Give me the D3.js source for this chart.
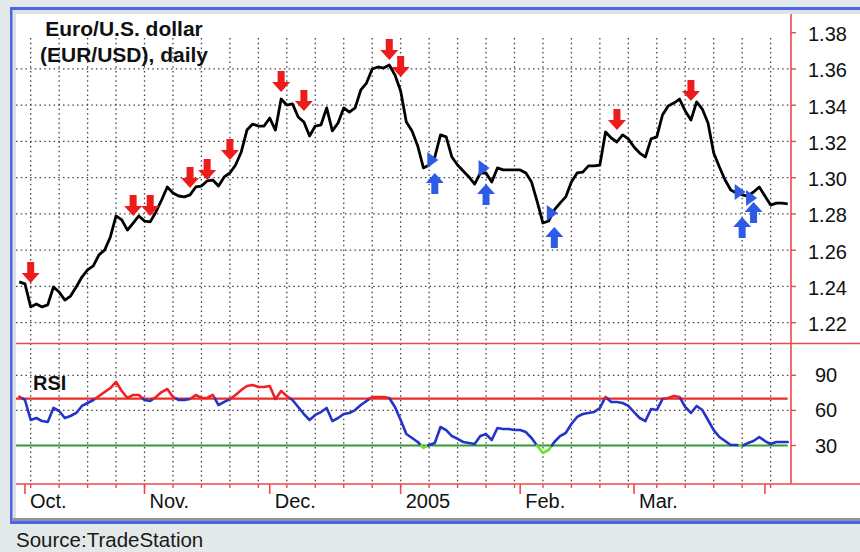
<!DOCTYPE html>
<html>
<head>
<meta charset="utf-8">
<script src="https://cdn.jsdelivr.net/npm/d3@7"></script>
<style>
  html, body { margin: 0; padding: 0; background: #e3e8e8; }
  svg { display: block; font-family: "Liberation Sans", Arial, sans-serif; }
</style>
</head>
<body>
<svg id="chart" width="860" height="552"></svg>
<script>
// ---- Data: EUR/USD daily closes, 30 Sep 2004 .. 7 Apr 2005 (one value per trading day) ----
const monthTickDays = [1, 22, 44, 67, 88, 108, 131];
const monthLabels = ["Oct.", "Nov.", "Dec.", "2005", "Feb.", "Mar."];

const priceTicks = [1.22, 1.24, 1.26, 1.28, 1.30, 1.32, 1.34, 1.36, 1.38];
const priceGrid = [1.22, 1.24, 1.26, 1.28, 1.30, 1.32, 1.34, 1.36];
const rsiTicks = [30, 60, 90];
const rsiGrid = [60, 90];
const rsiOverbought = 70;
const rsiOversold = 30;

const eurusd = [
  1.2425, 1.2414, 1.2287, 1.2303, 1.2287, 1.2298, 1.2397, 1.2369, 1.2325, 1.2347,
  1.2397, 1.2452, 1.2491, 1.2513, 1.2574, 1.2601, 1.2673, 1.2789, 1.2767, 1.2711,
  1.2750, 1.2789, 1.2761, 1.2756, 1.2811, 1.2877, 1.2949, 1.2916, 1.2899, 1.2894,
  1.2905, 1.2949, 1.2954, 1.2982, 1.2987, 1.2954, 1.3004, 1.3026, 1.3070, 1.3142,
  1.3263, 1.3296, 1.3285, 1.3285, 1.3329, 1.3263, 1.3434, 1.3401, 1.3407, 1.3335,
  1.3307, 1.3230, 1.3285, 1.3291, 1.3385, 1.3258, 1.3302, 1.3385, 1.3362, 1.3385,
  1.3484, 1.3522, 1.3600, 1.3611, 1.3605, 1.3622, 1.3567, 1.3478, 1.3307, 1.3258,
  1.3175, 1.3054, 1.3070, 1.3114, 1.3236, 1.3225, 1.3114, 1.3070, 1.3037, 1.3004,
  1.2965, 1.3026, 1.3026, 1.2976, 1.3054, 1.3043, 1.3043, 1.3043, 1.3043, 1.3026,
  1.2976, 1.2866, 1.2750, 1.2761, 1.2822, 1.2860, 1.2894, 1.2976, 1.3026, 1.3031,
  1.3065, 1.3065, 1.3070, 1.3252, 1.3219, 1.3197, 1.3236, 1.3214, 1.3169, 1.3136,
  1.3114, 1.3214, 1.3225, 1.3346, 1.3396, 1.3412, 1.3434, 1.3368, 1.3318, 1.3418,
  1.3379, 1.3302, 1.3136, 1.3059, 1.2987, 1.2932, 1.2916, 1.2905, 1.2899, 1.2921,
  1.2949, 1.2899, 1.2849, 1.2860, 1.2860, 1.2855
];

const rsi = [
  71.7, 68.9, 51.8, 53.5, 50.9, 50.1, 62.1, 59.5, 53.5, 55.2,
  57.8, 63.8, 66.3, 68.9, 72.3, 75.7, 79.1, 84.3, 76.6, 70.6,
  73.2, 73.2, 68.9, 68.0, 71.5, 75.7, 78.3, 71.5, 68.9, 68.9,
  69.7, 73.2, 70.6, 70.6, 73.2, 64.6, 67.2, 69.7, 73.2, 77.4,
  80.9, 81.7, 80.0, 80.0, 80.9, 69.7, 76.6, 72.3, 68.9, 62.9,
  56.9, 51.8, 56.1, 58.6, 62.1, 50.9, 53.5, 56.9, 57.8, 60.3,
  64.6, 68.0, 71.5, 71.5, 71.5, 70.6, 62.9, 51.8, 39.8, 36.4,
  33.0, 27.9, 30.4, 32.1, 45.8, 43.2, 38.1, 35.6, 33.0, 32.1,
  31.3, 38.1, 39.8, 34.7, 45.0, 44.1, 44.1, 43.2, 43.2, 41.5,
  36.4, 29.6, 23.6, 26.2, 33.0, 38.1, 40.7, 48.4, 54.4, 56.9,
  57.8, 58.6, 62.1, 71.5, 67.2, 67.2, 66.3, 63.8, 58.6, 53.5,
  50.9, 61.2, 60.3, 69.7, 70.6, 72.3, 71.5, 62.9, 57.8, 63.8,
  60.3, 51.8, 43.2, 37.3, 33.8, 30.4, 30.4, 29.6, 32.1, 33.8,
  37.3, 33.8, 31.3, 33.0, 33.0, 33.0
];

// Sell signals: trading day and the price level of the arrow tip
const sellDays = [2, 20, 23, 30, 33, 37, 46, 50, 65, 67, 105, 118];
const sellTips = [1.2419, 1.2789, 1.2789, 1.2943, 1.2987, 1.3098, 1.3473, 1.3368, 1.3649, 1.3556, 1.3263, 1.3423];

// Buy signals: trading day, arrow tip level and the bar marker level
const buyDays = [73, 82, 94, 127, 129];
const buyTips = [1.3026, 1.2965, 1.2728, 1.2783, 1.2866];
const buyMarks = [1.3098, 1.3054, 1.2805, 1.2921, 1.2888];

// ---- Layout ----
const W = 860, H = 552;
const plotLeft = 16, axisX = 791, panelRight = 860;
const priceTop = 38, priceBottom = 343.5, rsiBottom = 484;

const svg = d3.select("#chart");

const x = d3.scaleLinear().domain([0, eurusd.length - 1]).range([19.3, 787.7]);
const y = d3.scaleLinear().domain([1.22, 1.38]).range([322.7, 32.7]);
const yr = d3.scaleLinear().domain([30, 90]).range([445.5, 375.3]);

// ---- Frame ----
svg.append("rect").attr("width", W).attr("height", H).attr("fill", "#e3e8e8");
svg.append("rect").attr("x", 10).attr("y", 7).attr("width", W - 10).attr("height", 517).attr("fill", "#4a66e6");
svg.append("rect").attr("x", 12.5).attr("y", 10).attr("width", W - 12.5).attr("height", 511).attr("fill", "#dde2e2");
svg.append("rect").attr("x", 12.5).attr("y", 518).attr("width", W - 12.5).attr("height", 3).attr("fill", "#8f9494");
svg.append("rect").attr("x", plotLeft).attr("y", 14).attr("width", W - plotLeft).attr("height", 504).attr("fill", "#ffffff");

// ---- Dotted grid ----
const grid = svg.append("g")
  .attr("stroke", "#444").attr("stroke-width", 1.3).attr("stroke-dasharray", "1.5 3.2").attr("fill", "none");

const weekStarts = d3.range(2, eurusd.length - 2, 5);   // Mondays
grid.selectAll(".vg").data(weekStarts).join("line")
  .attr("x1", d => x(d)).attr("x2", d => x(d))
  .attr("y1", priceTop).attr("y2", rsiBottom);

grid.selectAll(".hg").data(priceGrid).join("line")
  .attr("x1", plotLeft).attr("x2", axisX)
  .attr("y1", d => y(d)).attr("y2", d => y(d));

grid.selectAll(".rg").data(rsiGrid).join("line")
  .attr("x1", plotLeft).attr("x2", axisX)
  .attr("y1", d => yr(d)).attr("y2", d => yr(d));

// ---- RSI reference levels ----
svg.append("line").attr("x1", plotLeft).attr("x2", x(eurusd.length - 1))
  .attr("y1", yr(rsiOverbought)).attr("y2", yr(rsiOverbought))
  .attr("stroke", "#ec2b2b").attr("stroke-width", 2.2);
svg.append("line").attr("x1", plotLeft).attr("x2", x(eurusd.length - 1))
  .attr("y1", yr(rsiOversold)).attr("y2", yr(rsiOversold))
  .attr("stroke", "#2f9a37").attr("stroke-width", 2.2);

// ---- RSI line, coloured by zone ----
function zoneOf(v) { return v > rsiOverbought ? "over" : (v < rsiOversold ? "under" : "mid"); }
const runs = [];
for (let i = 0; i < rsi.length - 1; i++) {
  const a = rsi[i], b = rsi[i + 1];
  const ts = [0, 1];
  [rsiOversold, rsiOverbought].forEach(L => {
    if ((a - L) * (b - L) < 0) ts.push((L - a) / (b - a));
  });
  ts.sort((p, q) => p - q);
  for (let k = 0; k < ts.length - 1; k++) {
    const t0 = ts[k], t1 = ts[k + 1];
    const p0 = { i: i + t0, v: a + (b - a) * t0 };
    const p1 = { i: i + t1, v: a + (b - a) * t1 };
    const z = zoneOf(a + (b - a) * (t0 + t1) / 2);
    const last = runs[runs.length - 1];
    if (last && last.zone === z) last.pts.push(p1);
    else runs.push({ zone: z, pts: [p0, p1] });
  }
}
const rsiColor = { over: "#ee2222", mid: "#2433c8", under: "#6fe02a" };
const rsiLine = d3.line().x(d => x(d.i)).y(d => yr(d.v));
svg.append("g").selectAll("path").data(runs).join("path")
  .attr("d", d => rsiLine(d.pts))
  .attr("fill", "none")
  .attr("stroke", d => rsiColor[d.zone])
  .attr("stroke-width", 2.6)
  .attr("stroke-linejoin", "round")
  .attr("stroke-linecap", "round");

// ---- Price line ----
const priceLine = d3.line().x((d, i) => x(i)).y(d => y(d));
svg.append("path").datum(eurusd)
  .attr("d", priceLine)
  .attr("fill", "none")
  .attr("stroke", "#000")
  .attr("stroke-width", 2.8)
  .attr("stroke-linejoin", "round");

// ---- Signal arrows ----
const downArrow = "M0,0 L-9,-10 L-3.5,-10 L-3.5,-21 L3.5,-21 L3.5,-10 L9,-10 Z";
const upArrow = "M0,0 L-9,10 L-3.5,10 L-3.5,21 L3.5,21 L3.5,10 L9,10 Z";
const barMarker = "M-6.5,-8 L4.5,0 L-6.5,8 Z";

svg.append("g").selectAll("path").data(sellDays).join("path")
  .attr("transform", (d, k) => `translate(${x(d)},${y(sellTips[k])})`)
  .attr("d", downArrow)
  .attr("fill", "#ee1b1b");

const buyG = svg.append("g");
buyG.selectAll(".mk").data(buyDays).join("path")
  .attr("transform", (d, k) => `translate(${x(d) - 1},${y(buyMarks[k])})`)
  .attr("d", barMarker)
  .attr("fill", "#2d5be6");
buyG.selectAll(".ar").data(buyDays).join("path")
  .attr("transform", (d, k) => `translate(${x(d)},${y(buyTips[k])})`)
  .attr("d", upArrow)
  .attr("fill", "#2d5be6");

// ---- Axes (red frame lines and ticks) ----
const axisColor = "#ec4a4a";
const ax = svg.append("g").attr("stroke", axisColor).attr("fill", "none");
ax.append("line").attr("x1", plotLeft).attr("x2", panelRight).attr("y1", priceBottom).attr("y2", priceBottom).attr("stroke-width", 1.6);
ax.append("line").attr("x1", plotLeft).attr("x2", panelRight).attr("y1", rsiBottom).attr("y2", rsiBottom).attr("stroke-width", 1.6);
ax.append("line").attr("x1", axisX).attr("x2", axisX).attr("y1", 14).attr("y2", rsiBottom).attr("stroke-width", 1.6);

ax.selectAll(".pt").data(priceTicks).join("line")
  .attr("x1", axisX).attr("x2", axisX + 5)
  .attr("y1", d => y(d)).attr("y2", d => y(d)).attr("stroke-width", 1.4);
ax.selectAll(".rt").data(rsiTicks).join("line")
  .attr("x1", axisX).attr("x2", axisX + 5)
  .attr("y1", d => yr(d)).attr("y2", d => yr(d)).attr("stroke-width", 1.4);
ax.selectAll(".wt").data(weekStarts).join("line")
  .attr("x1", d => x(d)).attr("x2", d => x(d))
  .attr("y1", rsiBottom).attr("y2", rsiBottom + 4).attr("stroke-width", 1.4);
ax.selectAll(".mt").data(monthTickDays).join("line")
  .attr("x1", d => x(d)).attr("x2", d => x(d))
  .attr("y1", rsiBottom).attr("y2", rsiBottom + 10).attr("stroke-width", 1.6);

// ---- Text ----
const txt = svg.append("g").attr("fill", "#111");
txt.selectAll(".pl").data(priceTicks).join("text")
  .attr("x", 808).attr("y", d => y(d) + 8.5)
  .attr("font-size", 20).text(d => d.toFixed(2));
txt.selectAll(".rl").data(rsiTicks).join("text")
  .attr("x", 815).attr("y", d => yr(d) + 7)
  .attr("font-size", 20).text(d => d);
txt.selectAll(".ml").data(monthLabels).join("text")
  .attr("x", (d, k) => x(monthTickDays[k]) + 5).attr("y", 508)
  .attr("font-size", 20).text(d => d);

txt.append("text").attr("x", 124).attr("y", 36).attr("text-anchor", "middle")
  .attr("font-size", 21).attr("font-weight", "bold").text("Euro/U.S. dollar");
txt.append("text").attr("x", 124).attr("y", 62).attr("text-anchor", "middle")
  .attr("font-size", 21).attr("font-weight", "bold").text("(EUR/USD), daily");
txt.append("text").attr("x", 33).attr("y", 390)
  .attr("font-size", 20).attr("font-weight", "bold").text("RSI");

svg.append("text").attr("x", 16).attr("y", 547).attr("fill", "#1a1a1a")
  .attr("font-size", 20.5).text("Source:TradeStation");
</script>
</body>
</html>
